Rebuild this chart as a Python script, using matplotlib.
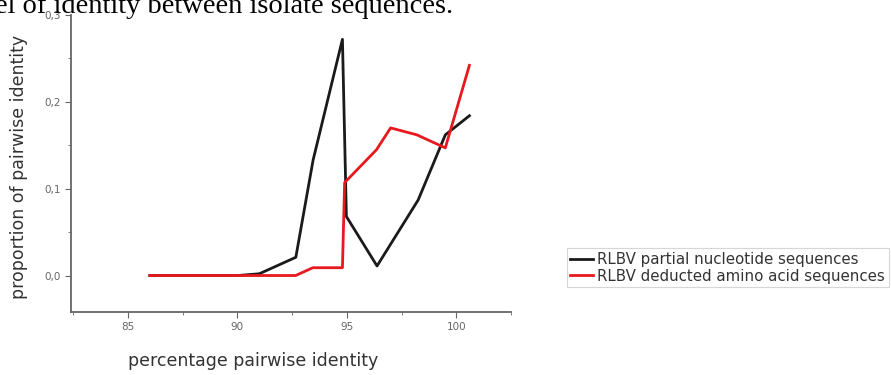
import matplotlib.pyplot as plt
from matplotlib.ticker import MultipleLocator, FuncFormatter

# data
nt_x = [86.0, 90.0, 91.0, 92.67, 93.46, 94.8, 94.98, 96.38, 98.26, 99.5, 100.6]
nt_y = [0.0, 0.0, 0.002, 0.021, 0.133, 0.272, 0.068, 0.011, 0.087, 0.162, 0.184]

aa_x = [86.0, 92.66, 93.45, 94.8, 94.9, 96.36, 97.0, 98.2, 99.5, 100.6]
aa_y = [0.0, 0.0, 0.009, 0.009, 0.107, 0.145, 0.17, 0.162, 0.147, 0.242]

labels = ["RLBV partial nucleotide sequences", "RLBV deducted amino acid sequences"]

fig = plt.figure(figsize=(8.91, 3.75), dpi=100)
ax = fig.add_axes([0.0797, 0.168, 0.4938, 0.792])

ax.plot(nt_x, nt_y, color="#1a1a1a", lw=2.0, label=labels[0])
ax.plot(aa_x, aa_y, color="#e8191e", lw=2.0, label=labels[1])

ax.set_xlim(82.4, 102.5)
ax.set_ylim(-0.042, 0.3)

for s in ["top", "right"]:
    ax.spines[s].set_visible(False)
for s in ["left", "bottom"]:
    ax.spines[s].set_color("#666666")
    ax.spines[s].set_linewidth(1.3)

ax.xaxis.set_major_locator(MultipleLocator(5))
ax.xaxis.set_minor_locator(MultipleLocator(2.5))
ax.yaxis.set_major_locator(MultipleLocator(0.1))
ax.yaxis.set_minor_locator(MultipleLocator(0.05))
ax.yaxis.set_major_formatter(FuncFormatter(lambda v, p: f"{v:.1f}".replace(".", ",")))
ax.tick_params(which="both", direction="out", colors="#666666", labelsize=7.5, labelcolor="#666666")
ax.tick_params(which="major", length=4)
ax.tick_params(which="minor", length=2.5)

ax.set_xlabel("percentage pairwise identity", fontsize=12.5, color="#333333")
ax.xaxis.set_label_coords(0.415, -0.135)
ax.set_ylabel("proportion of pairwise identity", fontsize=12.5, color="#333333")
ax.yaxis.set_label_coords(-0.098, 0.49)

fig.text(-0.006, 0.965, "el of identity between isolate sequences.", family="Liberation Serif",
         fontsize=20.5, color="black", va="baseline")

leg = fig.legend(loc="center left", bbox_to_anchor=(0.636, 0.286), frameon=True, fontsize=10.8,
                 handlelength=1.5, borderpad=0.25, labelspacing=0.12, handletextpad=0.3,
                 borderaxespad=0, fancybox=False, edgecolor="#cccccc")
leg.get_frame().set_linewidth(0.8)
for t in leg.get_texts():
    t.set_color("#333333")

fig.savefig("out.png", dpi=100)
